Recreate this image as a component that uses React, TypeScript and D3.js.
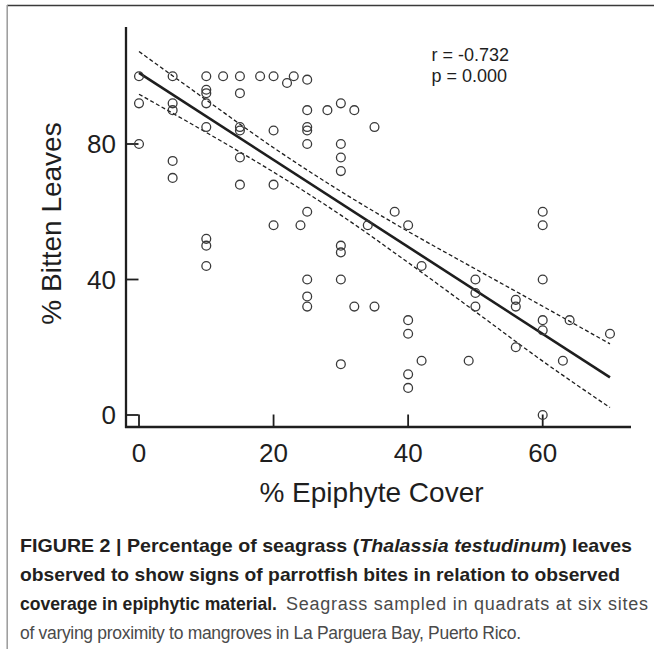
import React from "react";
import * as d3 from "d3";

// Observations: % epiphyte cover (x) vs % bitten leaves (y)
const epiphyteCover = [
  0, 5, 10, 12.5, 15, 18, 20, 22, 23, 25,
  10, 10, 15, 0, 5, 5, 10, 25, 28, 30, 32, 35,
  10, 15, 15, 20, 25, 25,
  0, 25, 30, 30, 30, 5, 15, 5, 15, 20,
  25, 20, 24, 34, 38, 40, 60, 60,
  10, 10, 10, 30, 30, 42,
  25, 30, 50, 60, 25, 25, 32, 35, 50, 50, 56, 56,
  40, 40, 60, 60, 64, 70,
  30, 42, 49, 56, 63, 40, 40, 60,
];
const bittenLeaves = [
  100, 100, 100, 100, 100, 100, 100, 98, 100, 99,
  96, 95, 95, 92, 92, 90, 92, 90, 90, 92, 90, 85,
  85, 85, 84, 84, 85, 84,
  80, 80, 80, 76, 72, 75, 76, 70, 68, 68,
  60, 56, 56, 56, 60, 56, 60, 56,
  52, 50, 44, 50, 48, 44,
  40, 40, 40, 40, 35, 32, 32, 32, 36, 32, 34, 32,
  28, 24, 28, 25, 28, 24,
  15, 16, 16, 20, 16, 12, 8, 0,
];

// Regression line and its confidence band
const fitX = [0, 70];
const fitY = [101, 11.1];
const bandX = [0, 10, 20, 30, 40, 50, 60, 70];
const bandUpper = [107.3, 93.0, 78.9, 66.0, 54.2, 43.1, 32.1, 21.0];
const bandLower = [94.7, 83.4, 71.7, 59.0, 45.0, 30.5, 15.9, 2.2];

const xTicks = [0, 20, 40, 60];
const yTicks = [0, 40, 80];
const statLines = ["r = -0.732", "p = 0.000"];

const W = 654;
const H = 649;
const INK = "#1e1e1e";
const FONT = "'Liberation Sans', Arial, Helvetica, sans-serif";

export default function App() {
  const x = d3.scaleLinear().domain([0, 60]).range([139, 542.7]);
  const y = d3.scaleLinear().domain([0, 80]).range([415, 144]);

  const axisX = 126;
  const axisY = 427;
  const tickLen = 12.5;

  const fitPath = d3
    .line<number>()
    .x((d) => x(d))
    .y((_, i) => y(fitY[i]))(fitX);

  const bandLine = (vals: number[]) =>
    d3
      .line<number>()
      .x((d) => x(d))
      .y((_, i) => y(vals[i]))
      .curve(d3.curveMonotoneX)(bandX);

  const pts = epiphyteCover.map((v, i) => ({ x: v, y: bittenLeaves[i] }));

  return (
    <svg
      width={W}
      height={H}
      viewBox={`0 0 ${W} ${H}`}
      style={{ position: "absolute", left: 0, top: 0, background: "#fff" }}
    >
      <rect x={0} y={0} width={W} height={H} fill="#fff" />
      {/* frame */}
      <line x1={7} x2={W} y1={5.5} y2={5.5} stroke="#3a3a3a" strokeWidth={1.5} />
      <line x1={7.2} x2={7.2} y1={5} y2={H} stroke="#9a9a9a" strokeWidth={1.5} />

      {/* axes */}
      <line x1={axisX} x2={axisX} y1={27} y2={axisY + 1} stroke={INK} strokeWidth={2.3} />
      <line x1={axisX - 1} x2={631} y1={axisY} y2={axisY} stroke={INK} strokeWidth={2.3} />
      {xTicks.map((t) => (
        <g key={"xt" + t}>
          <line x1={x(t)} x2={x(t)} y1={axisY} y2={axisY - tickLen} stroke={INK} strokeWidth={1.8} />
          <text
            x={x(t)}
            y={461.5}
            textAnchor="middle"
            fontFamily={FONT}
            fontSize={26}
            fill={INK}
          >
            {t}
          </text>
        </g>
      ))}
      {yTicks.map((t) => (
        <g key={"yt" + t}>
          <line x1={axisX} x2={axisX + tickLen} y1={y(t)} y2={y(t)} stroke={INK} strokeWidth={1.8} />
          <text
            x={116}
            y={y(t)}
            dy="0.36em"
            textAnchor="end"
            fontFamily={FONT}
            fontSize={26}
            fill={INK}
          >
            {t}
          </text>
        </g>
      ))}
      <text
        x={371.5}
        y={502}
        textAnchor="middle"
        fontFamily={FONT}
        fontSize={28}
        fill={INK}
      >
        % Epiphyte Cover
      </text>
      <text
        transform={`translate(61,223.5) rotate(-90)`}
        textAnchor="middle"
        fontFamily={FONT}
        fontSize={28}
        fill={INK}
      >
        % Bitten Leaves
      </text>

      {/* confidence band and fit */}
      <path d={bandLine(bandUpper) || ""} fill="none" stroke={INK} strokeWidth={1.3} strokeDasharray="4,2.5" />
      <path d={bandLine(bandLower) || ""} fill="none" stroke={INK} strokeWidth={1.3} strokeDasharray="4,2.5" />
      <path d={fitPath || ""} fill="none" stroke={INK} strokeWidth={2.6} />

      {/* points */}
      {pts.map((p, i) => (
        <circle
          key={i}
          cx={x(p.x)}
          cy={y(p.y)}
          r={4.4}
          fill="none"
          stroke="#3a3a3a"
          strokeWidth={1.3}
        />
      ))}

      {/* statistics */}
      {statLines.map((s, i) => (
        <text
          key={s}
          x={431.5}
          y={61 + i * 20.5}
          fontFamily={FONT}
          fontSize={18}
          fill={INK}
        >
          {s}
        </text>
      ))}

      {/* caption */}
      <g fontFamily={FONT}>
        <text x={20} y={552} fontSize={19} fontWeight="bold" fill="#231f20" textLength={612} lengthAdjust="spacingAndGlyphs">
          FIGURE 2 | Percentage of seagrass (
          <tspan fontStyle="italic">Thalassia testudinum</tspan>) leaves
        </text>
        <text x={20} y={581} fontSize={19} fontWeight="bold" fill="#231f20" textLength={600} lengthAdjust="spacingAndGlyphs">
          observed to show signs of parrotfish bites in relation to observed
        </text>
        <text x={20} y={610} fontSize={19} fontWeight="bold" fill="#231f20" textLength={257} lengthAdjust="spacingAndGlyphs">
          coverage in epiphytic material.
        </text>
        <text x={286} y={610} fontSize={18} fill="#4a4a4a" textLength={362} lengthAdjust="spacing">
          Seagrass sampled in quadrats at six sites
        </text>
        <text x={20} y={639} fontSize={17.5} fill="#4a4a4a" textLength={501} lengthAdjust="spacing">
          of varying proximity to mangroves in La Parguera Bay, Puerto Rico.
        </text>
      </g>
    </svg>
  );
}
